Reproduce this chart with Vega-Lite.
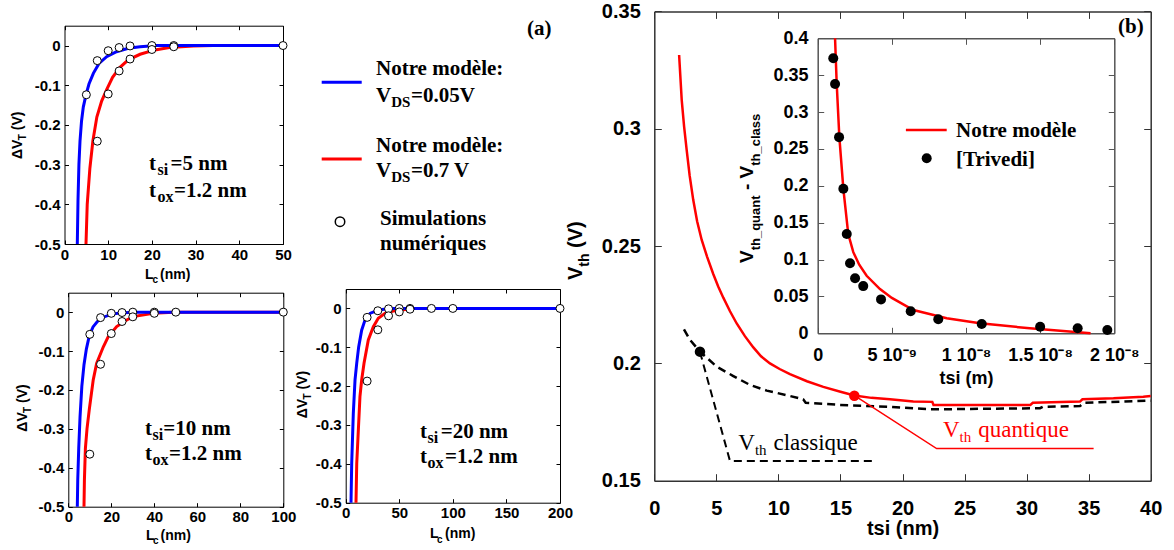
{
  "$schema": "https://vega.github.io/schema/vega-lite/v6.json",
  "width": 1174,
  "height": 550,
  "padding": 0,
  "autosize": {"type": "none"},
  "background": "white",
  "config": {
    "view": {"stroke": null},
    "axis": {"grid": false, "domainColor": "black", "tickColor": "black", "labelColor": "black", "labelFont": "Liberation Sans", "labelFontWeight": "bold", "titleFont": "Liberation Sans", "titleFontWeight": "bold", "titleColor": "black", "labelFlush": false, "labelOverlap": false, "domainWidth": 1, "tickWidth": 1}
  },
  "datasets": {
    "tl_lines": [
      {"x": 4.92, "y": -0.5, "vds": "0.7 V"}, {"x": 5.2, "y": -0.4, "vds": "0.7 V"}, {"x": 5.8, "y": -0.31, "vds": "0.7 V"}, {"x": 6.5, "y": -0.24, "vds": "0.7 V"}, {"x": 7.4, "y": -0.18, "vds": "0.7 V"}, {"x": 8.5, "y": -0.14, "vds": "0.7 V"}, {"x": 9.7, "y": -0.11, "vds": "0.7 V"}, {"x": 11, "y": -0.08, "vds": "0.7 V"}, {"x": 12.7, "y": -0.055, "vds": "0.7 V"}, {"x": 14.6, "y": -0.036, "vds": "0.7 V"}, {"x": 17.3, "y": -0.022, "vds": "0.7 V"}, {"x": 20.7, "y": -0.011, "vds": "0.7 V"}, {"x": 24, "y": -0.005, "vds": "0.7 V"}, {"x": 29.5, "y": -0.001, "vds": "0.7 V"}, {"x": 34, "y": 0, "vds": "0.7 V"}, {"x": 50, "y": 0, "vds": "0.7 V"},
      {"x": 2.93, "y": -0.5, "vds": "0.05 V"}, {"x": 3.09, "y": -0.39, "vds": "0.05 V"}, {"x": 3.3, "y": -0.3, "vds": "0.05 V"}, {"x": 3.55, "y": -0.24, "vds": "0.05 V"}, {"x": 3.9, "y": -0.19, "vds": "0.05 V"}, {"x": 4.3, "y": -0.155, "vds": "0.05 V"}, {"x": 4.9, "y": -0.125, "vds": "0.05 V"}, {"x": 5.6, "y": -0.097, "vds": "0.05 V"}, {"x": 6.6, "y": -0.07, "vds": "0.05 V"}, {"x": 7.9, "y": -0.045, "vds": "0.05 V"}, {"x": 9.65, "y": -0.028, "vds": "0.05 V"}, {"x": 11.9, "y": -0.0155, "vds": "0.05 V"}, {"x": 14.6, "y": -0.007, "vds": "0.05 V"}, {"x": 17.3, "y": -0.003, "vds": "0.05 V"}, {"x": 21, "y": 0, "vds": "0.05 V"}, {"x": 50, "y": 0, "vds": "0.05 V"}
    ],
    "tl_pts": [
      {"x": 5, "y": -0.124}, {"x": 7.5, "y": -0.038}, {"x": 7.5, "y": -0.241}, {"x": 10, "y": -0.013}, {"x": 10, "y": -0.122}, {"x": 12.5, "y": -0.005}, {"x": 12.5, "y": -0.064}, {"x": 15, "y": -0.001}, {"x": 15, "y": -0.034}, {"x": 20, "y": 0}, {"x": 20, "y": -0.01}, {"x": 25, "y": 0}, {"x": 25, "y": -0.003}, {"x": 50, "y": 0}
    ],
    "bl_lines": [
      {"x": 7.3, "y": -0.5, "vds": "0.7 V"}, {"x": 7.5, "y": -0.43, "vds": "0.7 V"}, {"x": 7.95, "y": -0.35, "vds": "0.7 V"}, {"x": 8.7, "y": -0.3, "vds": "0.7 V"}, {"x": 9.77, "y": -0.25, "vds": "0.7 V"}, {"x": 11.6, "y": -0.174, "vds": "0.7 V"}, {"x": 13.2, "y": -0.131, "vds": "0.7 V"}, {"x": 16.3, "y": -0.089, "vds": "0.7 V"}, {"x": 18.6, "y": -0.063, "vds": "0.7 V"}, {"x": 22.5, "y": -0.037, "vds": "0.7 V"}, {"x": 27.2, "y": -0.02, "vds": "0.7 V"}, {"x": 30.2, "y": -0.0115, "vds": "0.7 V"}, {"x": 39.5, "y": -0.003, "vds": "0.7 V"}, {"x": 48.8, "y": 0, "vds": "0.7 V"}, {"x": 100, "y": 0, "vds": "0.7 V"},
      {"x": 4.19, "y": -0.5, "vds": "0.05 V"}, {"x": 4.4, "y": -0.43, "vds": "0.05 V"}, {"x": 4.85, "y": -0.35, "vds": "0.05 V"}, {"x": 5.45, "y": -0.27, "vds": "0.05 V"}, {"x": 6.3, "y": -0.19, "vds": "0.05 V"}, {"x": 7.3, "y": -0.135, "vds": "0.05 V"}, {"x": 8.4, "y": -0.095, "vds": "0.05 V"}, {"x": 9.8, "y": -0.06, "vds": "0.05 V"}, {"x": 11.5, "y": -0.038, "vds": "0.05 V"}, {"x": 13.5, "y": -0.024, "vds": "0.05 V"}, {"x": 16.3, "y": -0.013, "vds": "0.05 V"}, {"x": 20.2, "y": -0.005, "vds": "0.05 V"}, {"x": 24, "y": -0.002, "vds": "0.05 V"}, {"x": 30.2, "y": 0, "vds": "0.05 V"}, {"x": 100, "y": 0, "vds": "0.05 V"}
    ],
    "bl_pts": [
      {"x": 10, "y": -0.057}, {"x": 10, "y": -0.365}, {"x": 15, "y": -0.014}, {"x": 15, "y": -0.134}, {"x": 20, "y": -0.003}, {"x": 20, "y": -0.055}, {"x": 25, "y": -0.001}, {"x": 25, "y": -0.024}, {"x": 30, "y": 0}, {"x": 30, "y": -0.012}, {"x": 40, "y": 0}, {"x": 40, "y": -0.003}, {"x": 50, "y": 0}, {"x": 100, "y": 0}
    ],
    "bm_lines": [
      {"x": 9.6, "y": -0.5, "vds": "0.7 V"}, {"x": 10.3, "y": -0.399, "vds": "0.7 V"}, {"x": 11.8, "y": -0.313, "vds": "0.7 V"}, {"x": 13.3, "y": -0.227, "vds": "0.7 V"}, {"x": 14.9, "y": -0.184, "vds": "0.7 V"}, {"x": 17.1, "y": -0.141, "vds": "0.7 V"}, {"x": 21.1, "y": -0.081, "vds": "0.7 V"}, {"x": 25.8, "y": -0.047, "vds": "0.7 V"}, {"x": 30.4, "y": -0.0255, "vds": "0.7 V"}, {"x": 36.7, "y": -0.0127, "vds": "0.7 V"}, {"x": 44.4, "y": -0.0067, "vds": "0.7 V"}, {"x": 63.1, "y": 0, "vds": "0.7 V"}, {"x": 200, "y": 0, "vds": "0.7 V"},
      {"x": 4.95, "y": -0.5, "vds": "0.05 V"}, {"x": 5.6, "y": -0.399, "vds": "0.05 V"}, {"x": 7.1, "y": -0.27, "vds": "0.05 V"}, {"x": 8.7, "y": -0.184, "vds": "0.05 V"}, {"x": 10.3, "y": -0.141, "vds": "0.05 V"}, {"x": 12.1, "y": -0.099, "vds": "0.05 V"}, {"x": 14.9, "y": -0.056, "vds": "0.05 V"}, {"x": 18, "y": -0.03, "vds": "0.05 V"}, {"x": 22.7, "y": -0.0127, "vds": "0.05 V"}, {"x": 30.4, "y": -0.004, "vds": "0.05 V"}, {"x": 41.3, "y": 0, "vds": "0.05 V"}, {"x": 200, "y": 0, "vds": "0.05 V"}
    ],
    "bm_pts": [
      {"x": 20, "y": -0.023}, {"x": 20, "y": -0.187}, {"x": 30, "y": -0.006}, {"x": 30, "y": -0.055}, {"x": 40, "y": -0.001}, {"x": 40, "y": -0.019}, {"x": 50, "y": 0}, {"x": 50, "y": -0.009}, {"x": 60, "y": 0}, {"x": 60, "y": -0.002}, {"x": 80, "y": 0}, {"x": 100, "y": 0}, {"x": 200, "y": 0}
    ],
    "b_quant": [
      {"x": 2.0, "y": 0.3314}, {"x": 2.21, "y": 0.3122}, {"x": 2.4, "y": 0.301}, {"x": 2.61, "y": 0.2909}, {"x": 2.85, "y": 0.28}, {"x": 3.14, "y": 0.2696}, {"x": 3.45, "y": 0.2606}, {"x": 3.82, "y": 0.2526}, {"x": 4.25, "y": 0.2455}, {"x": 4.75, "y": 0.2381}, {"x": 5.15, "y": 0.2328}, {"x": 5.56, "y": 0.228}, {"x": 6.1, "y": 0.2222}, {"x": 6.64, "y": 0.217}, {"x": 7.3, "y": 0.2116}, {"x": 7.98, "y": 0.2068}, {"x": 8.6, "y": 0.203}, {"x": 9.32, "y": 0.2}, {"x": 10.1, "y": 0.1976}, {"x": 10.93, "y": 0.1954}, {"x": 12.3, "y": 0.1924}, {"x": 13.62, "y": 0.19}, {"x": 15.0, "y": 0.1879}, {"x": 16.12, "y": 0.1863}, {"x": 17.5, "y": 0.1853}, {"x": 18.99, "y": 0.1847}, {"x": 20.87, "y": 0.1838}, {"x": 22.4, "y": 0.1836}, {"x": 22.5, "y": 0.1823}, {"x": 30.3, "y": 0.1823}, {"x": 30.5, "y": 0.1832}, {"x": 34.3, "y": 0.1837}, {"x": 34.5, "y": 0.1847}, {"x": 37.0, "y": 0.1851}, {"x": 39.4, "y": 0.1858}, {"x": 40, "y": 0.1861}
    ],
    "b_class": [
      {"x": 2.39, "y": 0.2145}, {"x": 2.88, "y": 0.21}, {"x": 3.68, "y": 0.205}, {"x": 5.03, "y": 0.1986}, {"x": 6.37, "y": 0.1946}, {"x": 7.71, "y": 0.1908}, {"x": 9.06, "y": 0.1884}, {"x": 10.93, "y": 0.1861}, {"x": 12.0, "y": 0.1847}, {"x": 12.2, "y": 0.1832}, {"x": 14.96, "y": 0.1823}, {"x": 18.99, "y": 0.1815}, {"x": 22.21, "y": 0.1804}, {"x": 31.08, "y": 0.1809}, {"x": 31.3, "y": 0.1815}, {"x": 34.3, "y": 0.1818}, {"x": 34.6, "y": 0.1832}, {"x": 40, "y": 0.1841}
    ],
    "inset_model": [
      {"x": 1.17e-9, "y": 0.4}, {"x": 1.28e-9, "y": 0.339}, {"x": 1.46e-9, "y": 0.266}, {"x": 1.73e-9, "y": 0.1957}, {"x": 2.06e-9, "y": 0.1346}, {"x": 2.4e-9, "y": 0.11}, {"x": 2.8e-9, "y": 0.093}, {"x": 3.3e-9, "y": 0.078}, {"x": 4.2e-9, "y": 0.06}, {"x": 5.0e-9, "y": 0.048}, {"x": 6.45e-9, "y": 0.0316}, {"x": 8.7e-9, "y": 0.0203}, {"x": 1.094e-8, "y": 0.0136}, {"x": 1.43e-8, "y": 0.0068}, {"x": 1.84e-8, "y": 0.0}
    ],
    "inset_trivedi": [
      {"x": 1.05e-9, "y": 0.373}, {"x": 1.17e-9, "y": 0.338}, {"x": 1.44e-9, "y": 0.266}, {"x": 1.73e-9, "y": 0.196}, {"x": 1.96e-9, "y": 0.1346}, {"x": 2.18e-9, "y": 0.095}, {"x": 2.52e-9, "y": 0.0746}, {"x": 3.07e-9, "y": 0.064}, {"x": 4.27e-9, "y": 0.046}, {"x": 6.27e-9, "y": 0.03}, {"x": 8.13e-9, "y": 0.019}, {"x": 1.106e-8, "y": 0.0126}, {"x": 1.5e-8, "y": 0.009}, {"x": 1.753e-8, "y": 0.0068}, {"x": 1.953e-8, "y": 0.0045}
    ]
  },
  "resolve": {"scale": {"x": "independent", "y": "independent"}, "axis": {"x": "independent", "y": "independent"}},
  "layer": [
    {
      "encoding": {
        "x": {"field": "x", "type": "quantitative", "scale": {"domain": [0, 50], "range": [64.5, 283], "nice": false, "zero": false}, "axis": null},
        "y": {"field": "y", "type": "quantitative", "scale": {"domain": [-0.5, 0.05], "range": [244, 25.7], "nice": false, "zero": false}, "axis": null}
      },
      "resolve": {"axis": {"x": "independent", "y": "independent"}},
      "layer": [
        {"data": {"name": "tl_lines"}, "transform": [{"filter": "datum.vds == '0.7 V'"}], "mark": {"type": "line", "color": "#ff0000", "strokeWidth": 3},
         "encoding": {
           "x": {"field": "x", "type": "quantitative", "scale": {"domain": [0, 50], "range": [64.5, 283], "nice": false, "zero": false}, "axis": {"orient": "bottom", "offset": -306, "values": [0, 10, 20, 30, 40, 50], "tickSize": -4, "labelPadding": 7, "labelFontSize": 15, "title": null, "labelExpr": "'' + datum.value"}},
           "y": {"field": "y", "type": "quantitative", "scale": {"domain": [-0.5, 0.05], "range": [244, 25.7], "nice": false, "zero": false}, "axis": {"orient": "left", "offset": -64.5, "values": [-0.5, -0.4, -0.3, -0.2, -0.1, 0], "tickSize": -4, "labelPadding": 8.5, "labelFontSize": 15, "title": null, "labelExpr": "datum.value < 0 ? '-' + abs(datum.value) : '' + datum.value"}}
         }},
        {"data": {"name": "tl_lines"}, "transform": [{"filter": "datum.vds == '0.05 V'"}], "mark": {"type": "line", "color": "#0000ff", "strokeWidth": 3},
         "encoding": {
           "x": {"field": "x", "type": "quantitative", "scale": {"domain": [0, 50], "range": [64.5, 283], "nice": false, "zero": false}, "axis": {"orient": "top", "offset": -25.7, "values": [0, 10, 20, 30, 40, 50], "tickSize": -4, "labels": false, "title": null}},
           "y": {"field": "y", "type": "quantitative", "scale": {"domain": [-0.5, 0.05], "range": [244, 25.7], "nice": false, "zero": false}, "axis": {"orient": "right", "offset": -891, "values": [-0.5, -0.4, -0.3, -0.2, -0.1, 0], "tickSize": -4, "labels": false, "title": null}}
         }},
        {"data": {"name": "tl_pts"}, "mark": {"type": "point", "shape": "circle", "filled": true, "fill": "white", "stroke": "black", "strokeWidth": 1, "size": 64, "opacity": 1}},
        {"data": {"values": [{"x": 19.34, "y": -0.3136, "t": "t"}, {"x": 24.26, "y": -0.3136, "t": "=5 nm"}, {"x": 19.34, "y": -0.3808, "t": "t"}, {"x": 25.06, "y": -0.3808, "t": "=1.2 nm"}]},
         "mark": {"type": "text", "font": "Liberation Serif", "fontWeight": "bold", "fontSize": 21, "align": "left", "baseline": "alphabetic", "color": "black"}, "encoding": {"text": {"field": "t", "type": "nominal"}}},
        {"data": {"values": [{"x": 21.28, "y": -0.3262, "t": "si"}, {"x": 21.28, "y": -0.3934, "t": "ox"}]},
         "mark": {"type": "text", "font": "Liberation Serif", "fontWeight": "bold", "fontSize": 16, "align": "left", "baseline": "alphabetic", "color": "black"}, "encoding": {"text": {"field": "t", "type": "nominal"}}},
        {"data": {"values": [{"x": -9.611, "y": -0.2858, "t": "ΔV"}, {"x": -9.611, "y": -0.2135, "t": "(V)"}]},
         "mark": {"type": "text", "font": "Liberation Sans", "fontWeight": "bold", "fontSize": 14, "align": "left", "baseline": "alphabetic", "angle": 270, "color": "black"}, "encoding": {"text": {"field": "t", "type": "nominal"}}},
        {"data": {"values": [{"x": -8.696, "y": -0.2387, "t": "T"}]},
         "mark": {"type": "text", "font": "Liberation Sans", "fontWeight": "bold", "fontSize": 10, "align": "left", "baseline": "alphabetic", "angle": 270, "color": "black"}, "encoding": {"text": {"field": "t", "type": "nominal"}}},
        {"data": {"values": [{"x": 18.42, "y": -0.5894, "t": "L"}, {"x": 21.85, "y": -0.5894, "t": "(nm)"}]},
         "mark": {"type": "text", "font": "Liberation Sans", "fontWeight": "bold", "fontSize": 14, "align": "left", "baseline": "alphabetic", "color": "black"}, "encoding": {"text": {"field": "t", "type": "nominal"}}},
        {"data": {"values": [{"x": 20.14, "y": -0.5983, "t": "c"}]},
         "mark": {"type": "text", "font": "Liberation Sans", "fontWeight": "bold", "fontSize": 10, "align": "left", "baseline": "alphabetic", "color": "black"}, "encoding": {"text": {"field": "t", "type": "nominal"}}}
      ]
    },
    {
      "encoding": {
        "x": {"field": "x", "type": "quantitative", "scale": {"domain": [0, 100], "range": [68.3, 283.3], "nice": false, "zero": false}, "axis": null},
        "y": {"field": "y", "type": "quantitative", "scale": {"domain": [-0.5, 0.05], "range": [506.7, 292.7], "nice": false, "zero": false}, "axis": null}
      },
      "resolve": {"axis": {"x": "independent", "y": "independent"}},
      "layer": [
        {"data": {"name": "bl_lines"}, "transform": [{"filter": "datum.vds == '0.7 V'"}], "mark": {"type": "line", "color": "#ff0000", "strokeWidth": 3},
         "encoding": {
           "x": {"field": "x", "type": "quantitative", "scale": {"domain": [0, 100], "range": [68.3, 283.3], "nice": false, "zero": false}, "axis": {"orient": "bottom", "offset": -43.3, "values": [0, 20, 40, 60, 80, 100], "tickSize": -4, "labelPadding": 7, "labelFontSize": 15, "title": null, "labelExpr": "'' + datum.value"}},
           "y": {"field": "y", "type": "quantitative", "scale": {"domain": [-0.5, 0.05], "range": [506.7, 292.7], "nice": false, "zero": false}, "axis": {"orient": "left", "offset": -68.3, "values": [-0.5, -0.4, -0.3, -0.2, -0.1, 0], "tickSize": -4, "labelPadding": 8.5, "labelFontSize": 15, "title": null, "labelExpr": "datum.value < 0 ? '-' + abs(datum.value) : '' + datum.value"}}
         }},
        {"data": {"name": "bl_lines"}, "transform": [{"filter": "datum.vds == '0.05 V'"}], "mark": {"type": "line", "color": "#0000ff", "strokeWidth": 3},
         "encoding": {
           "x": {"field": "x", "type": "quantitative", "scale": {"domain": [0, 100], "range": [68.3, 283.3], "nice": false, "zero": false}, "axis": {"orient": "top", "offset": -292.7, "values": [0, 20, 40, 60, 80, 100], "tickSize": -4, "labels": false, "title": null}},
           "y": {"field": "y", "type": "quantitative", "scale": {"domain": [-0.5, 0.05], "range": [506.7, 292.7], "nice": false, "zero": false}, "axis": {"orient": "right", "offset": -890.7, "values": [-0.5, -0.4, -0.3, -0.2, -0.1, 0], "tickSize": -4, "labels": false, "title": null}}
         }},
        {"data": {"name": "bl_pts"}, "mark": {"type": "point", "shape": "circle", "filled": true, "fill": "white", "stroke": "black", "strokeWidth": 1, "size": 64, "opacity": 1}},
        {"data": {"values": [{"x": 35.67, "y": -0.3156, "t": "t"}, {"x": 44.19, "y": -0.3156, "t": "=10 nm"}, {"x": 35.67, "y": -0.3798, "t": "t"}, {"x": 46.84, "y": -0.3798, "t": "=1.2 nm"}]},
         "mark": {"type": "text", "font": "Liberation Serif", "fontWeight": "bold", "fontSize": 21, "align": "left", "baseline": "alphabetic", "color": "black"}, "encoding": {"text": {"field": "t", "type": "nominal"}}},
        {"data": {"values": [{"x": 39.16, "y": -0.3284, "t": "si"}, {"x": 39.16, "y": -0.3927, "t": "ox"}]},
         "mark": {"type": "text", "font": "Liberation Serif", "fontWeight": "bold", "fontSize": 16, "align": "left", "baseline": "alphabetic", "color": "black"}, "encoding": {"text": {"field": "t", "type": "nominal"}}},
        {"data": {"values": [{"x": -19.44, "y": -0.3071, "t": "ΔV"}, {"x": -19.44, "y": -0.2334, "t": "(V)"}]},
         "mark": {"type": "text", "font": "Liberation Sans", "fontWeight": "bold", "fontSize": 14, "align": "left", "baseline": "alphabetic", "angle": 270, "color": "black"}, "encoding": {"text": {"field": "t", "type": "nominal"}}},
        {"data": {"values": [{"x": -17.58, "y": -0.2591, "t": "T"}]},
         "mark": {"type": "text", "font": "Liberation Sans", "fontWeight": "bold", "fontSize": 10, "align": "left", "baseline": "alphabetic", "angle": 270, "color": "black"}, "encoding": {"text": {"field": "t", "type": "nominal"}}},
        {"data": {"values": [{"x": 36.14, "y": -0.5855, "t": "L"}, {"x": 42.88, "y": -0.5855, "t": "(nm)"}]},
         "mark": {"type": "text", "font": "Liberation Sans", "fontWeight": "bold", "fontSize": 14, "align": "left", "baseline": "alphabetic", "color": "black"}, "encoding": {"text": {"field": "t", "type": "nominal"}}},
        {"data": {"values": [{"x": 39.4, "y": -0.5957, "t": "c"}]},
         "mark": {"type": "text", "font": "Liberation Sans", "fontWeight": "bold", "fontSize": 10, "align": "left", "baseline": "alphabetic", "color": "black"}, "encoding": {"text": {"field": "t", "type": "nominal"}}}
      ]
    },
    {
      "encoding": {
        "x": {"field": "x", "type": "quantitative", "scale": {"domain": [0, 200], "range": [345.7, 560], "nice": false, "zero": false}, "axis": null},
        "y": {"field": "y", "type": "quantitative", "scale": {"domain": [-0.5, 0.05], "range": [502.7, 289], "nice": false, "zero": false}, "axis": null}
      },
      "resolve": {"axis": {"x": "independent", "y": "independent"}},
      "layer": [
        {"data": {"name": "bm_lines"}, "transform": [{"filter": "datum.vds == '0.7 V'"}], "mark": {"type": "line", "color": "#ff0000", "strokeWidth": 3},
         "encoding": {
           "x": {"field": "x", "type": "quantitative", "scale": {"domain": [0, 200], "range": [345.7, 560], "nice": false, "zero": false}, "axis": {"orient": "bottom", "offset": -47.3, "values": [0, 50, 100, 150, 200], "tickSize": -4, "labelPadding": 7, "labelFontSize": 15, "title": null, "labelExpr": "'' + datum.value"}},
           "y": {"field": "y", "type": "quantitative", "scale": {"domain": [-0.5, 0.05], "range": [502.7, 289], "nice": false, "zero": false}, "axis": {"orient": "left", "offset": -345.7, "values": [-0.5, -0.4, -0.3, -0.2, -0.1, 0], "tickSize": -4, "labelPadding": 8.5, "labelFontSize": 15, "title": null, "labelExpr": "datum.value < 0 ? '-' + abs(datum.value) : '' + datum.value"}}
         }},
        {"data": {"name": "bm_lines"}, "transform": [{"filter": "datum.vds == '0.05 V'"}], "mark": {"type": "line", "color": "#0000ff", "strokeWidth": 3},
         "encoding": {
           "x": {"field": "x", "type": "quantitative", "scale": {"domain": [0, 200], "range": [345.7, 560], "nice": false, "zero": false}, "axis": {"orient": "top", "offset": -289, "values": [0, 50, 100, 150, 200], "tickSize": -4, "labels": false, "title": null}},
           "y": {"field": "y", "type": "quantitative", "scale": {"domain": [-0.5, 0.05], "range": [502.7, 289], "nice": false, "zero": false}, "axis": {"orient": "right", "offset": -614, "values": [-0.5, -0.4, -0.3, -0.2, -0.1, 0], "tickSize": -4, "labels": false, "title": null}}
         }},
        {"data": {"name": "bm_pts"}, "mark": {"type": "point", "shape": "circle", "filled": true, "fill": "white", "stroke": "black", "strokeWidth": 1, "size": 64, "opacity": 1}},
        {"data": {"values": [{"x": 69.34, "y": -0.3344, "t": "t"}, {"x": 88.66, "y": -0.3344, "t": "=20 nm"}, {"x": 69.34, "y": -0.3987, "t": "t"}, {"x": 92.67, "y": -0.3987, "t": "=1.2 nm"}]},
         "mark": {"type": "text", "font": "Liberation Serif", "fontWeight": "bold", "fontSize": 21, "align": "left", "baseline": "alphabetic", "color": "black"}, "encoding": {"text": {"field": "t", "type": "nominal"}}},
        {"data": {"values": [{"x": 76.34, "y": -0.3472, "t": "si"}, {"x": 76.34, "y": -0.4116, "t": "ox"}]},
         "mark": {"type": "text", "font": "Liberation Serif", "fontWeight": "bold", "fontSize": 16, "align": "left", "baseline": "alphabetic", "color": "black"}, "encoding": {"text": {"field": "t", "type": "nominal"}}},
        {"data": {"values": [{"x": -36.12, "y": -0.2829, "t": "ΔV"}, {"x": -36.12, "y": -0.2089, "t": "(V)"}]},
         "mark": {"type": "text", "font": "Liberation Sans", "fontWeight": "bold", "fontSize": 14, "align": "left", "baseline": "alphabetic", "angle": 270, "color": "black"}, "encoding": {"text": {"field": "t", "type": "nominal"}}},
        {"data": {"values": [{"x": -32.38, "y": -0.2347, "t": "T"}]},
         "mark": {"type": "text", "font": "Liberation Sans", "fontWeight": "bold", "fontSize": 10, "align": "left", "baseline": "alphabetic", "angle": 270, "color": "black"}, "encoding": {"text": {"field": "t", "type": "nominal"}}},
        {"data": {"values": [{"x": 78.68, "y": -0.5918, "t": "L"}, {"x": 92.67, "y": -0.5918, "t": "(nm)"}]},
         "mark": {"type": "text", "font": "Liberation Sans", "fontWeight": "bold", "fontSize": 14, "align": "left", "baseline": "alphabetic", "color": "black"}, "encoding": {"text": {"field": "t", "type": "nominal"}}},
        {"data": {"values": [{"x": 85.21, "y": -0.6026, "t": "c"}]},
         "mark": {"type": "text", "font": "Liberation Sans", "fontWeight": "bold", "fontSize": 10, "align": "left", "baseline": "alphabetic", "color": "black"}, "encoding": {"text": {"field": "t", "type": "nominal"}}}
      ]
    },
    {
      "encoding": {
        "x": {"field": "x", "type": "quantitative", "scale": {"domain": [0, 1], "range": [300, 580], "nice": false, "zero": false}, "axis": null},
        "y": {"field": "y", "type": "quantitative", "scale": {"domain": [0, 1], "range": [260, 20], "nice": false, "zero": false}, "axis": null}
      },
      "layer": [
        {"data": {"values": [{"x": 0.0775, "y": 0.7404}, {"x": 0.2204, "y": 0.7404}]}, "mark": {"type": "line", "color": "#0000ff", "strokeWidth": 3}},
        {"data": {"values": [{"x": 0.0775, "y": 0.4208}, {"x": 0.2204, "y": 0.4208}]}, "mark": {"type": "line", "color": "#ff0000", "strokeWidth": 3}},
        {"data": {"values": [{"x": 0.1429, "y": 0.1596}]}, "mark": {"type": "point", "shape": "circle", "filled": true, "fill": "white", "stroke": "black", "strokeWidth": 1.5, "size": 90, "opacity": 1}},
        {"data": {"values": [
          {"x": 0.8107, "y": 0.9375, "t": "(a)"},
          {"x": 0.2714, "y": 0.7708, "t": "Notre modèle:"},
          {"x": 0.2714, "y": 0.6596, "t": "V"},
          {"x": 0.3964, "y": 0.6596, "t": "=0.05V"},
          {"x": 0.2714, "y": 0.4513, "t": "Notre modèle:"},
          {"x": 0.2714, "y": 0.3446, "t": "V"},
          {"x": 0.3964, "y": 0.3446, "t": "=0.7 V"},
          {"x": 0.2857, "y": 0.1458, "t": "Simulations"},
          {"x": 0.2857, "y": 0.0417, "t": "numériques"}
        ]},
         "mark": {"type": "text", "font": "Liberation Serif", "fontWeight": "bold", "fontSize": 21, "align": "left", "baseline": "alphabetic", "color": "black"}, "encoding": {"text": {"field": "t", "type": "nominal"}}},
        {"data": {"values": [{"x": 0.3257, "y": 0.6388, "t": "DS"}, {"x": 0.3257, "y": 0.3238, "t": "DS"}]},
         "mark": {"type": "text", "font": "Liberation Serif", "fontWeight": "bold", "fontSize": 15, "align": "left", "baseline": "alphabetic", "color": "black"}, "encoding": {"text": {"field": "t", "type": "nominal"}}}
      ]
    },
    {
      "encoding": {
        "x": {"field": "x", "type": "quantitative", "scale": {"domain": [0, 40], "range": [654.3, 1150.7], "nice": false, "zero": false}, "axis": null},
        "y": {"field": "y", "type": "quantitative", "scale": {"domain": [0.15, 0.35], "range": [480.7, 11.4], "nice": false, "zero": false}, "axis": null}
      },
      "resolve": {"axis": {"x": "independent", "y": "independent"}},
      "layer": [
        {"data": {"name": "b_quant"}, "mark": {"type": "line", "color": "#ff0000", "strokeWidth": 2.5},
         "encoding": {
           "x": {"field": "x", "type": "quantitative", "scale": {"domain": [0, 40], "range": [654.3, 1150.7], "nice": false, "zero": false}, "axis": {"orient": "bottom", "offset": -69.3, "values": [0, 5, 10, 15, 20, 25, 30, 35, 40], "tickSize": -7, "labelPadding": 25, "labelFontSize": 20, "labelExpr": "'' + datum.value", "title": "tsi (nm)", "titleFontSize": 20, "titlePadding": 0, "domainColor": "#333333", "tickColor": "#333333", "domainWidth": 1.5}},
           "y": {"field": "y", "type": "quantitative", "scale": {"domain": [0.15, 0.35], "range": [480.7, 11.4], "nice": false, "zero": false}, "axis": {"orient": "left", "offset": -654.3, "values": [0.15, 0.2, 0.25, 0.3, 0.35], "tickSize": -7, "labelPadding": 21, "labelFontSize": 20, "labelExpr": "'' + datum.value", "title": null, "domainColor": "#333333", "tickColor": "#333333", "domainWidth": 1.5}}
         }},
        {"data": {"name": "b_class"}, "mark": {"type": "line", "color": "black", "strokeWidth": 2.5, "strokeDash": [8, 5]},
         "encoding": {
           "x": {"field": "x", "type": "quantitative", "scale": {"domain": [0, 40], "range": [654.3, 1150.7], "nice": false, "zero": false}, "axis": {"orient": "top", "offset": -11.4, "values": [0, 5, 10, 15, 20, 25, 30, 35, 40], "tickSize": -7, "labels": false, "title": null, "domainColor": "#333333", "tickColor": "#333333", "domainWidth": 1.5}},
           "y": {"field": "y", "type": "quantitative", "scale": {"domain": [0.15, 0.35], "range": [480.7, 11.4], "nice": false, "zero": false}, "axis": {"orient": "right", "offset": -23.3, "values": [0.15, 0.2, 0.25, 0.3, 0.35], "tickSize": -7, "labels": false, "title": null, "domainColor": "#333333", "tickColor": "#333333", "domainWidth": 1.5}}
         }},
        {"data": {"values": [{"x": 16.2, "y": 0.186}, {"x": 22.75, "y": 0.1637}, {"x": 35.4, "y": 0.1637}]}, "mark": {"type": "line", "color": "#ff0000", "strokeWidth": 1.5}},
        {"data": {"values": [{"x": 3.68, "y": 0.2049}, {"x": 6.1, "y": 0.1584}, {"x": 17.8, "y": 0.1584}]}, "mark": {"type": "line", "color": "black", "strokeWidth": 2, "strokeDash": [8, 5]}},
        {"data": {"values": [{"x": 16.12, "y": 0.1862}]}, "mark": {"type": "point", "shape": "circle", "filled": true, "color": "#ff0000", "size": 110, "opacity": 1}},
        {"data": {"values": [{"x": 3.68, "y": 0.205}]}, "mark": {"type": "point", "shape": "circle", "filled": true, "color": "black", "size": 110, "opacity": 1}},
        {"data": {"values": [{"x": 6.769, "y": 0.16308, "t": "V"}, {"x": 9.6, "y": 0.16308, "t": "classique"}]},
         "mark": {"type": "text", "font": "Liberation Serif", "fontSize": 23, "align": "left", "baseline": "alphabetic", "color": "black"}, "encoding": {"text": {"field": "t", "type": "nominal"}}},
        {"data": {"values": [{"x": 8.106, "y": 0.16095, "t": "th"}]},
         "mark": {"type": "text", "font": "Liberation Serif", "fontSize": 15, "align": "left", "baseline": "alphabetic", "color": "black"}, "encoding": {"text": {"field": "t", "type": "nominal"}}},
        {"data": {"values": [{"x": 23.263, "y": 0.16875, "t": "V"}, {"x": 26.1, "y": 0.16875, "t": "quantique"}]},
         "mark": {"type": "text", "font": "Liberation Serif", "fontSize": 23, "align": "left", "baseline": "alphabetic", "color": "#ff0000"}, "encoding": {"text": {"field": "t", "type": "nominal"}}},
        {"data": {"values": [{"x": 24.601, "y": 0.16662, "t": "th"}]},
         "mark": {"type": "text", "font": "Liberation Serif", "fontSize": 15, "align": "left", "baseline": "alphabetic", "color": "#ff0000"}, "encoding": {"text": {"field": "t", "type": "nominal"}}},
        {"data": {"values": [{"x": 37.365, "y": 0.3408, "t": "(b)"}]},
         "mark": {"type": "text", "font": "Liberation Serif", "fontWeight": "bold", "fontSize": 21, "align": "left", "baseline": "alphabetic", "color": "black"}, "encoding": {"text": {"field": "t", "type": "nominal"}}},
        {"data": {"values": [{"x": -5.826, "y": 0.23553, "t": "V"}, {"x": -5.826, "y": 0.24921, "t": "(V)"}]},
         "mark": {"type": "text", "font": "Liberation Sans", "fontWeight": "bold", "fontSize": 20, "align": "left", "baseline": "alphabetic", "angle": 270, "color": "black"}, "encoding": {"text": {"field": "t", "type": "nominal"}}},
        {"data": {"values": [{"x": -5.262, "y": 0.2412, "t": "th"}]},
         "mark": {"type": "text", "font": "Liberation Sans", "fontWeight": "bold", "fontSize": 14, "align": "left", "baseline": "alphabetic", "angle": 270, "color": "black"}, "encoding": {"text": {"field": "t", "type": "nominal"}}}
      ]
    },
    {
      "encoding": {
        "x": {"field": "x", "type": "quantitative", "scale": {"domain": [0, 2e-8], "range": [817.7, 1114.3], "nice": false, "zero": false}, "axis": null},
        "y": {"field": "y", "type": "quantitative", "scale": {"domain": [0, 0.4], "range": [333.3, 38.3], "nice": false, "zero": false}, "axis": null}
      },
      "resolve": {"axis": {"x": "independent", "y": "independent"}},
      "layer": [
        {"data": {"name": "inset_model"}, "mark": {"type": "line", "color": "#ff0000", "strokeWidth": 2.5},
         "encoding": {
           "x": {"field": "x", "type": "quantitative", "scale": {"domain": [0, 2e-8], "range": [817.7, 1114.3], "nice": false, "zero": false}, "axis": {"orient": "bottom", "offset": -216.7, "values": [0, 5e-9, 1e-8, 1.5e-8, 2e-8], "tickSize": -6, "labelPadding": 19.5, "labelFontSize": 18, "labelExpr": "datum.value == 0 ? '0' : datum.value < 7e-9 ? '5 10⁻⁹' : datum.value < 1.2e-8 ? '1 10⁻⁸' : datum.value < 1.7e-8 ? '1.5 10⁻⁸' : '2 10⁻⁸'", "title": "tsi (m)", "titleFontSize": 18, "titlePadding": 5, "domainColor": "#555555", "tickColor": "#555555", "domainWidth": 1.5}},
           "y": {"field": "y", "type": "quantitative", "scale": {"domain": [0, 0.4], "range": [333.3, 38.3], "nice": false, "zero": false}, "axis": {"orient": "left", "offset": -817.7, "values": [0, 0.05, 0.1, 0.15, 0.2, 0.25, 0.3, 0.35, 0.4], "tickSize": -6, "labelPadding": 15.7, "labelFontSize": 18, "labelExpr": "'' + datum.value", "title": null, "domainColor": "#555555", "tickColor": "#555555", "domainWidth": 1.5}}
         }},
        {"data": {"name": "inset_trivedi"}, "mark": {"type": "point", "shape": "circle", "filled": true, "color": "black", "size": 100, "opacity": 1},
         "encoding": {
           "x": {"field": "x", "type": "quantitative", "scale": {"domain": [0, 2e-8], "range": [817.7, 1114.3], "nice": false, "zero": false}, "axis": {"orient": "top", "offset": -38.3, "values": [0, 5e-9, 1e-8, 1.5e-8, 2e-8], "tickSize": -6, "labels": false, "title": null, "domainColor": "#555555", "tickColor": "#555555", "domainWidth": 1.5}},
           "y": {"field": "y", "type": "quantitative", "scale": {"domain": [0, 0.4], "range": [333.3, 38.3], "nice": false, "zero": false}, "axis": {"orient": "right", "offset": -59.7, "values": [0, 0.05, 0.1, 0.15, 0.2, 0.25, 0.3, 0.35, 0.4], "tickSize": -6, "labels": false, "title": null, "domainColor": "#555555", "tickColor": "#555555", "domainWidth": 1.5}}
         }},
        {"data": {"values": [{"x": 5.947e-9, "y": 0.2757}, {"x": 8.699e-9, "y": 0.2757}]}, "mark": {"type": "line", "color": "#ff0000", "strokeWidth": 2.5}},
        {"data": {"values": [{"x": 7.35e-9, "y": 0.2373}]}, "mark": {"type": "point", "shape": "circle", "filled": true, "color": "black", "size": 100, "opacity": 1}},
        {"data": {"values": [{"x": 9.326e-9, "y": 0.2666, "t": "Notre modèle"}, {"x": 9.326e-9, "y": 0.2268, "t": "[Trivedi]"}]},
         "mark": {"type": "text", "font": "Liberation Serif", "fontWeight": "bold", "fontSize": 21, "align": "left", "baseline": "alphabetic", "color": "black"}, "encoding": {"text": {"field": "t", "type": "nominal"}}},
        {"data": {"values": [{"x": -4.363e-9, "y": 0.0953, "t": "V"}, {"x": -4.363e-9, "y": 0.1942, "t": "- V"}]},
         "mark": {"type": "text", "font": "Liberation Sans", "fontWeight": "bold", "fontSize": 19, "align": "left", "baseline": "alphabetic", "angle": 270, "color": "black"}, "encoding": {"text": {"field": "t", "type": "nominal"}}},
        {"data": {"values": [{"x": -3.891e-9, "y": 0.1125, "t": "th_quant"}, {"x": -3.891e-9, "y": 0.2271, "t": "th_class"}]},
         "mark": {"type": "text", "font": "Liberation Sans", "fontWeight": "bold", "fontSize": 13, "align": "left", "baseline": "alphabetic", "angle": 270, "color": "black"}, "encoding": {"text": {"field": "t", "type": "nominal"}}}
      ]
    }
  ]
}
